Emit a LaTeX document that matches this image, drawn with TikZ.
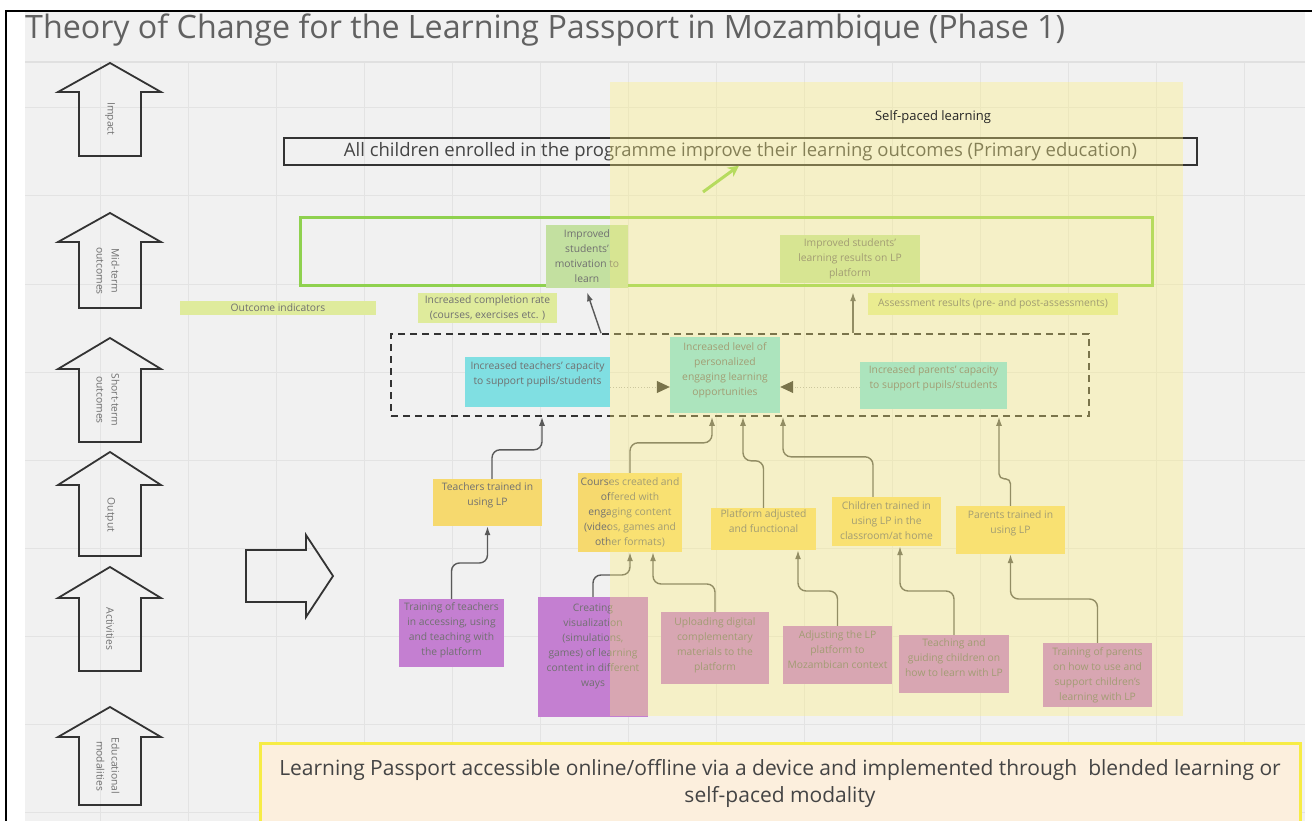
\documentclass[tikz,border=0pt]{standalone}
\usepackage{fontspec}
\setmainfont{Open Sans}
\usetikzlibrary{arrows.meta}
\definecolor{bgc}{HTML}{F1F1F1}
\definecolor{gridc}{HTML}{E3E3E3}
\definecolor{tgray}{HTML}{707070}
\definecolor{dgray}{HTML}{444444}
\definecolor{ylw}{HTML}{F6D96E}
\definecolor{purp}{HTML}{C47FD1}
\definecolor{cyn}{HTML}{80DFE2}
\definecolor{grn}{HTML}{C3E0A0}
\definecolor{olive}{HTML}{DFEB9C}
\definecolor{grnline}{HTML}{8FD14F}
\definecolor{ovl}{HTML}{FFF07A}
\definecolor{cream}{HTML}{FCEFDD}
\definecolor{ybord}{HTML}{F7EC45}
\newcommand\tx[2]{\raisebox{#1pt}[\height][\depth]{\begin{tabular}{@{}c@{}}#2\end{tabular}}}
\newcommand\smf{\fontsize{10.3}{15}\selectfont}
\newcommand\blockup[3]{\draw[barrow] (110,#1) -- (161,#2) -- (141,#2) -- (141,#3) -- (79,#3) -- (79,#2) -- (58,#2) -- cycle;}
\begin{document}
\begin{tikzpicture}[x=1pt,y=-1pt,
  bx/.style={inner sep=0pt, font=\smf, text=tgray},
  lab/.style={rotate=-90, align=center, font=\smf, text=tgray, inner sep=0pt},
  barrow/.style={draw=black!80, line width=1.8pt, line join=miter},
  conn/.style={draw=black!65, line width=1.4pt, rounded corners=8pt, -{Latex[length=9pt,width=6pt]}},
  dotc/.style={draw=black!30, dotted, line width=0.8pt, -{Triangle[length=13pt,width=12pt,color=black!80]}},
  garrow/.style={draw=grnline, line width=3pt, -{Stealth[length=11pt,width=11pt]}}]
\useasboundingbox (0,0) rectangle (1312,821);
\fill[white] (0,0) rectangle (1312,821);
\fill[bgc] (25,12) rectangle (1305,821);
\foreach \gx in {100,188,...,1244} \draw[gridc, line width=1pt] (\gx,62) -- (\gx,821);
\foreach \gy in {108,196,...,812} \draw[gridc, line width=1pt] (25,\gy) -- (1305,\gy);
\draw[black!12, line width=1.2pt] (25,62) -- (1305,62);
\draw[black, line width=2.5pt] (6,821) -- (6,11) -- (1312,11);

% title
\node[anchor=base west, inner sep=0pt, text=black!62, font=\fontsize{32.2}{38}\selectfont] (title) at (25,39) {Theory of Change for the Learning Passport in Mozambique (Phase 1)};

% block arrows and labels
\blockup{63}{92}{156}
\blockup{213}{242}{308}
\blockup{338}{369}{442}
\blockup{452}{485}{556}
\blockup{567}{598}{671}
\blockup{707}{737}{805}
\node[lab] (lImp) at (110,119) {Impact};
\node[lab] (lMid) at (108,271) {Mid-term\\outcomes};
\node[lab] (lSh) at (108,400) {Short-term\\outcomes};
\node[lab] (lOut) at (110,515) {Output};
\node[lab] (lAct) at (110,629) {Activities};
\node[lab] (lEdu) at (108,766) {Educational\\modalities};
\draw[barrow] (246,550) -- (306,550) -- (306,535) -- (333,576) -- (306,617) -- (306,602) -- (246,602) -- cycle;

% impact
\node[draw=black!80, line width=1.5pt, inner sep=0pt, minimum width=913pt, minimum height=27pt, text=dgray, font=\fontsize{18.5}{21}\selectfont] (allc) at (740.5,151.5) {All children enrolled in the programme improve their learning outcomes (Primary education)};

% mid-term
\node[draw=grnline, line width=3pt, inner sep=0pt, minimum width=852pt, minimum height=67pt] (mid) at (726,251.5) {};
\node[bx, fill=grn, minimum width=82pt, minimum height=63pt] (mot) at (587,256.5) {\tx{0}{Improved\\students’\\motivation to\\learn}};
\node[bx, fill=grn, minimum width=140pt, minimum height=48pt] (lr) at (850,259) {\tx{0}{Improved students’\\learning results on LP\\platform}};
\node[bx, fill=olive, minimum width=196pt, minimum height=14pt] (oi) at (278,308) {Outcome indicators};
\node[bx, fill=olive, minimum width=139pt, minimum height=30pt] (icr) at (487.5,308) {\tx{0}{Increased completion rate\\(courses, exercises etc. )}};
\node[bx, fill=olive, minimum width=250pt, minimum height=22pt] (ar) at (993,304) {Assessment results (pre- and post-assessments)};

% short-term
\node[draw=black!80, line width=1.6pt, dash pattern=on 7pt off 5pt, inner sep=0pt, minimum width=698pt, minimum height=82pt] (dash) at (740,375) {};
\node[bx, fill=cyn, minimum width=145pt, minimum height=50pt] (tcap) at (537.5,382) {\tx{8.5}{Increased teachers’ capacity\\to support pupils/students}};
\node[bx, fill=cyn, minimum width=110pt, minimum height=76pt] (pers) at (725,375) {\tx{5}{Increased level of\\personalized\\engaging learning\\opportunities}};
\node[bx, fill=cyn, minimum width=147pt, minimum height=47pt] (pcap) at (933.5,385.5) {\tx{8}{Increased parents’ capacity\\to support pupils/students}};

% outputs
\node[bx, fill=ylw, minimum width=109pt, minimum height=47pt] (o1) at (487.5,502.5) {\tx{8}{Teachers trained in\\using LP}};
\node[bx, fill=ylw, minimum width=104pt, minimum height=79pt] (o2) at (630,512.5) {\tx{0}{Courses created and\\offered with\\engaging content\\(videos, games and\\other formats)}};
\node[bx, fill=ylw, minimum width=105pt, minimum height=42pt] (o3) at (763.5,529) {\tx{7.5}{Platform adjusted\\and functional}};
\node[bx, fill=ylw, minimum width=109pt, minimum height=49pt] (o4) at (886.5,521.5) {\tx{0}{Children trained in\\using LP in the\\classroom/at home}};
\node[bx, fill=ylw, minimum width=109pt, minimum height=48pt] (o5) at (1010.5,530) {\tx{7.5}{Parents trained in\\using LP}};

% activities
\node[bx, fill=purp, minimum width=105pt, minimum height=68pt] (a1) at (451.5,633) {\tx{3.5}{Training of teachers\\in accessing, using\\and teaching with\\the platform}};
\node[bx, fill=purp, minimum width=110pt, minimum height=120pt] (a2) at (593,657) {\tx{11.5}{Creating\\visualization\\(simulations,\\games) of learning\\content in different\\ways}};
\node[bx, fill=purp, minimum width=108pt, minimum height=72pt] (a3) at (715,648) {\tx{3.5}{Uploading digital\\complementary\\materials to the\\platform}};
\node[bx, fill=purp, minimum width=109pt, minimum height=58pt] (a4) at (837.5,655) {\tx{4.5}{Adjusting the LP\\platform to\\Mozambican context}};
\node[bx, fill=purp, minimum width=110pt, minimum height=58pt] (a5) at (954,664) {\tx{5.5}{Teaching and\\guiding children on\\how to learn with LP}};
\node[bx, fill=purp, minimum width=109pt, minimum height=64pt] (a6) at (1097.5,675) {\tx{0}{Training of parents\\on how to use and\\support children’s\\learning with LP}};

% connectors activities -> outputs
\draw[conn] (a1.north) -- (a1.north |- 0,563) -| (o1.south);
\draw[conn] (a2.north) -- (a2.north |- 0,575) -| (o2.south);
\draw[conn] (a3.north) -- (a3.north |- 0,584) -| ([xshift=23pt]o2.south);
\draw[conn] (a4.north) -- (a4.north |- 0,591) -| ([xshift=34.5pt]o3.south);
\draw[conn] (a5.north) -- (a5.north |- 0,591) -| ([xshift=13.5pt]o4.south);
\draw[conn] (a6.north) -- (a6.north |- 0,599) -| (o5.south);

% outputs -> short-term
\draw[conn] ([xshift=4.5pt]o1.north) -- ++(0,-29) -| (542,0 |- dash.south);
\draw[conn] (o2.north) -- ++(0,-30) -| (712,0 |- dash.south);
\draw[conn] (o3.north) -- ++(0,-47) -| (743,0 |- dash.south);
\draw[conn] ([xshift=-13.5pt]o4.north) -- ++(0,-40) -| (783,0 |- dash.south);
\draw[conn, rounded corners=5pt] (o5.north) -- ++(0,-27) -| (999,0 |- dash.south);

% short-term internal
\draw[dotc] (tcap.east |- 0,387) -- (pers.west |- 0,387);
\draw[dotc] (pcap.west |- 0,387) -- (pers.east |- 0,387);

% short-term -> mid-term
\draw[conn] (601,0 |- dash.north) -- ([yshift=-4pt]mot.south);
\draw[conn] (853,0 |- dash.north) -- ([yshift=-9pt]853,0 |- lr.south);

% mid-term -> impact
\coordinate (ga) at (703,192);
\draw[garrow] (ga) -- (739,0 |- allc.south);

% bottom modality box
\node[fill=cream, draw=ybord, line width=3pt, inner sep=0pt, minimum width=1040pt, minimum height=81pt, align=center, text=dgray, font=\fontsize{21}{27}\selectfont] (edu) at (780,783.5) {Learning Passport accessible online/offline via a device and implemented through~ blended learning or\\self-paced modality};

% self-paced overlay
\fill[ovl, opacity=0.35] (610,82) rectangle (1183,716);
\node[inner sep=0pt, text=black!85, font=\fontsize{13}{15}\selectfont] (sp) at (933,117) {Self-paced learning};
\end{tikzpicture}
\end{document}
